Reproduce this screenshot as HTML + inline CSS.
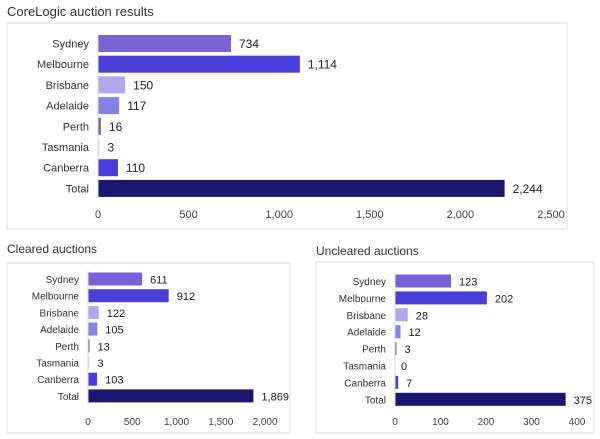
<!DOCTYPE html>
<html><head><meta charset="utf-8"><style>
body{margin:0;background:#fff;font-family:"Liberation Sans",sans-serif}
svg{display:block}
</style></head><body>
<svg id="s" width="600" height="439" xmlns="http://www.w3.org/2000/svg">
<text x="7" y="16" font-size="13" fill="#333">CoreLogic auction results</text>
<rect x="7" y="23" width="560" height="206" fill="#fff" stroke="#ddd"/>
<text x="7" y="253" font-size="12" fill="#333">Cleared auctions</text>
<rect x="7" y="263" width="283" height="170" fill="#fff" stroke="#ddd"/>
<text x="316" y="255" font-size="12" fill="#333">Uncleared auctions</text>
<rect x="316" y="262" width="278" height="171" fill="#fff" stroke="#ddd"/>
</svg>
<script>
const categories=["Sydney","Melbourne","Brisbane","Adelaide","Perth","Tasmania","Canberra","Total"];
const colors=["#7b61d6","#4a3fd9","#b3a6ec","#8782e6","#6f5fb0","#d8d4f0","#4a3fd9","#1c1670"];
const totalValues=[734,1114,150,117,16,3,110,2244];
const clearedValues=[611,912,122,105,13,3,103,1869];
const unclearedValues=[123,202,28,12,3,0,7,375];
const totalTicks=[0,500,1000,1500,2000,2500];
const clearedTicks=[0,500,1000,1500,2000];
const unclearedTicks=[0,100,200,300,400];
const NS="http://www.w3.org/2000/svg";
const svg=document.getElementById('s');
function fmt(v){return v.toLocaleString('en-US');}
function draw(key,values,ticks,cfg){
  const x=v=>cfg.x0+v*(cfg.x1-cfg.x0)/ticks[ticks.length-1];
  const y=i=>cfg.y0+i*cfg.step;
  categories.forEach((c,i)=>{
    const cy=y(i);
    const lab=document.createElementNS(NS,'text');
    
    
    lab.setAttribute('x',cfg.x0-9);lab.setAttribute('y',cy+4);
    lab.setAttribute('text-anchor','end');lab.setAttribute('font-size',cfg.fs);lab.setAttribute('fill','#333');
    lab.textContent=c;svg.appendChild(lab);
    const w=Math.max(x(values[i])-cfg.x0,values[i]>0?1.5:0);
    const r=document.createElementNS(NS,'rect');
    
    
    r.setAttribute('x',cfg.x0);r.setAttribute('y',cy-cfg.bh/2);
    r.setAttribute('width',w);r.setAttribute('height',cfg.bh);r.setAttribute('fill',colors[i]);
    svg.appendChild(r);
    const vl=document.createElementNS(NS,'text');
    
    
    vl.setAttribute('x',cfg.x0+w+(values[i]>0?8:6));vl.setAttribute('y',cy+4.5);
    vl.setAttribute('font-size',cfg.fs+1);vl.setAttribute('fill','#222');
    vl.textContent=fmt(values[i]);svg.appendChild(vl);
  });
  const ax=document.createElementNS(NS,'line');
  
  
  ax.setAttribute('x1',cfg.x0);ax.setAttribute('x2',cfg.x0);
  ax.setAttribute('y1',y(0)-cfg.step/2);ax.setAttribute('y2',y(7)+cfg.step/2);
  ax.setAttribute('stroke','#ddd');svg.appendChild(ax);
  ticks.forEach(t=>{
    const tl=document.createElementNS(NS,'text');
    
    
    tl.setAttribute('x',x(t));tl.setAttribute('y',cfg.ty);
    tl.setAttribute('text-anchor','middle');tl.setAttribute('font-size',cfg.fs);tl.setAttribute('fill','#444');
    tl.textContent=fmt(t);svg.appendChild(tl);
  });
}
draw('total',totalValues,totalTicks,{x0:98,x1:551,y0:43.5,step:20.7,bh:17,fs:11,ty:218});
draw('cleared',clearedValues,clearedTicks,{x0:88,x1:265,y0:279,step:16.7,bh:13,fs:10,ty:425});
draw('uncleared',unclearedValues,unclearedTicks,{x0:395,x1:577,y0:281,step:16.9,bh:13,fs:10,ty:425});
</script>
</body></html>
